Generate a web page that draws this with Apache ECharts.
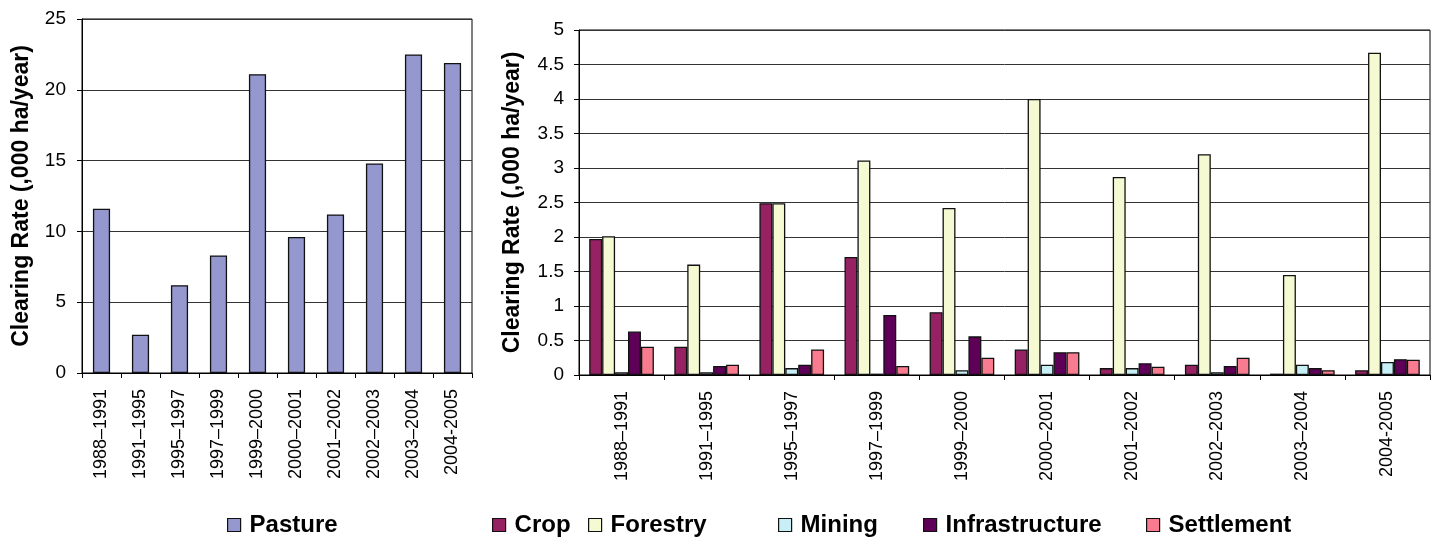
<!DOCTYPE html>
<html>
<head>
<meta charset="utf-8">
<script src="https://cdn.jsdelivr.net/npm/echarts@6/dist/echarts.min.js"></script>
<style>
html,body{margin:0;padding:0;background:#fff;}
#c{width:1438px;height:539px;}
</style>
</head>
<body>
<div id="c"></div>
<script>
const categories = ["1988\u20131991","1991\u20131995","1995\u20131997","1997\u20131999","1999\u20132000","2000\u20132001","2001\u20132002","2002\u20132003","2003\u20132004","2004-2005"];
const pasture = [11.6, 2.7, 6.2, 8.3, 21.1, 9.6, 11.2, 14.8, 22.5, 21.9];
const crop = [1.97, 0.41, 2.49, 1.71, 0.91, 0.37, 0.10, 0.15, 0.02, 0.07];
const forestry = [2.01, 1.60, 2.49, 3.11, 2.42, 4.00, 2.87, 3.20, 1.45, 4.67];
const mining = [0.04, 0.04, 0.10, 0.02, 0.07, 0.15, 0.10, 0.04, 0.15, 0.19];
const infrastructure = [0.63, 0.13, 0.15, 0.87, 0.56, 0.33, 0.17, 0.13, 0.10, 0.23];
const settlement = [0.41, 0.15, 0.37, 0.13, 0.25, 0.33, 0.12, 0.25, 0.07, 0.22];
const leftTicks = [0, 5, 10, 15, 20, 25];
const rightTicks = [0, 0.5, 1, 1.5, 2, 2.5, 3, 3.5, 4, 4.5, 5];

const FONT = "'Liberation Sans', Arial, sans-serif";
const colors = {
  Pasture: '#9598CE', Crop: '#962263', Forestry: '#F6FAD2',
  Mining: '#C9EFF6', Infrastructure: '#5E0058', Settlement: '#F87B8F'
};

function yAxis(gridIndex, max, interval, gap, margin) {
  return {
    type: 'value', gridIndex: gridIndex, min: 0, max: max, interval: interval,
    name: 'Clearing Rate (,000 ha/year)', nameLocation: 'middle', nameGap: gap,
    nameTextStyle: { fontFamily: FONT, fontSize: 23, fontWeight: 'bold', color: '#000' },
    axisLine: { show: true, lineStyle: { color: '#000', width: 1 } },
    axisTick: { show: true, length: 5, lineStyle: { color: '#000' } },
    axisLabel: { fontFamily: FONT, fontSize: 19, color: '#000', margin: margin },
    splitLine: { show: true, lineStyle: { color: '#333', width: 1 } }
  };
}
function xAxis(gridIndex) {
  return {
    type: 'category', gridIndex: gridIndex, data: categories,
    axisLine: { show: true, lineStyle: { color: '#000', width: 1 } },
    axisTick: { show: true, length: 5, lineStyle: { color: '#000' } },
    axisLabel: { fontFamily: FONT, fontSize: 18, color: '#000', rotate: 90, margin: 16, interval: 0 },
    splitLine: { show: false }
  };
}
function bar(name, data, xi, yi, extra) {
  return Object.assign({
    name: name, type: 'bar', xAxisIndex: xi, yAxisIndex: yi, data: data,
    itemStyle: { color: colors[name], borderColor: '#111', borderWidth: 1.3 },
    animation: false
  }, extra || {});
}
function legendItem(name, left) {
  return {
    data: [name], left: left, top: 508, itemWidth: 13, itemHeight: 13,
    icon: 'rect', selectedMode: false,
    itemStyle: { borderColor: '#111', borderWidth: 1.2 },
    textStyle: { fontFamily: FONT, fontSize: 24, fontWeight: 'bold', color: '#000', padding: [0, 0, 0, 4] }
  };
}

const chart = echarts.init(document.getElementById('c'));
chart.setOption({
  backgroundColor: '#fff',
  animation: false,
  grid: [
    { left: 82, right: 966, top: 19, bottom: 166, show: true, borderColor: '#000', borderWidth: 1, backgroundColor: 'transparent' },
    { left: 579, right: 8, top: 30, bottom: 164, show: true, borderColor: '#000', borderWidth: 1, backgroundColor: 'transparent' }
  ],
  xAxis: [xAxis(0), xAxis(1)],
  yAxis: [yAxis(0, leftTicks[leftTicks.length - 1], leftTicks[1] - leftTicks[0], 49, 16),
          yAxis(1, rightTicks[rightTicks.length - 1], rightTicks[1] - rightTicks[0], 55, 15)],
  legend: [
    legendItem('Pasture', 222),
    legendItem('Crop', 487),
    legendItem('Forestry', 583),
    legendItem('Mining', 773),
    legendItem('Infrastructure', 918),
    legendItem('Settlement', 1141)
  ],
  series: [
    bar('Pasture', pasture, 0, 0, { barWidth: '44%' }),
    bar('Crop', crop, 1, 1, { barGap: '0%', barCategoryGap: '24%' }),
    bar('Forestry', forestry, 1, 1, { barGap: '0%', barCategoryGap: '24%' }),
    bar('Mining', mining, 1, 1, { barGap: '0%', barCategoryGap: '24%' }),
    bar('Infrastructure', infrastructure, 1, 1, { barGap: '0%', barCategoryGap: '24%' }),
    bar('Settlement', settlement, 1, 1, { barGap: '0%', barCategoryGap: '24%' })
  ]
});
</script>
</body>
</html>
